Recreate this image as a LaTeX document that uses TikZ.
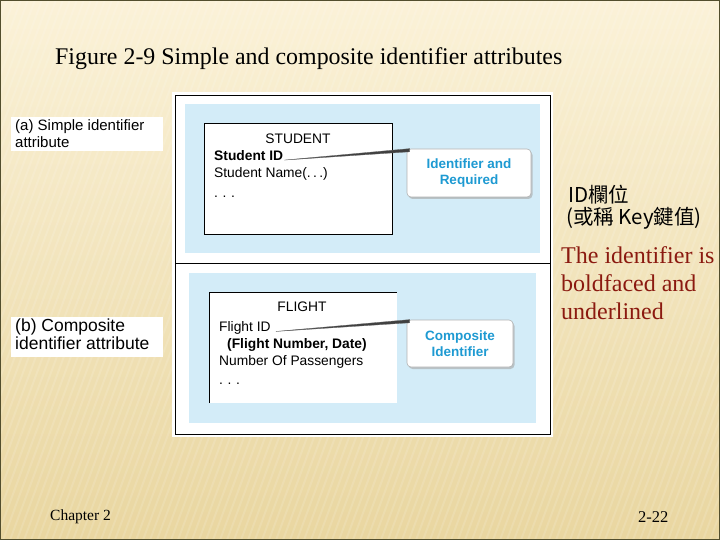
\documentclass[tikz,border=0pt]{standalone}
\usepackage{fontspec}
\setmainfont{Liberation Serif}
\newfontfamily\arialf{Liberation Sans}
\newfontfamily\cjk{Noto Sans CJK TC}
\usetikzlibrary{calc,shadows}
\definecolor{creamtop}{HTML}{FBF2D8}
\definecolor{creambot}{HTML}{E9D6A0}
\definecolor{panelblue}{HTML}{D3ECF8}
\definecolor{calloutblue}{HTML}{1E9AD2}
\definecolor{darkred}{HTML}{8B1A10}
\tikzset{
  panel/.style={fill=panelblue, draw=none},
  entbox/.style={fill=white, draw=black, line width=0.8pt},
  attr/.style={font=\arialf\fontsize{13.8}{15}\selectfont, anchor=base west, inner sep=0pt},
  callout/.style={fill=white, draw=gray!60, rounded corners=4pt, line width=0.6pt,
     drop shadow={shadow xshift=1.5pt, shadow yshift=-2pt, fill=gray!70, opacity=0.6},
     font=\arialf\bfseries\fontsize{13.5}{16}\selectfont, text=calloutblue, align=center,
     inner sep=0pt},
  lbl/.style={fill=white, draw=none, anchor=north west, align=left, inner sep=0pt,
     text depth=0pt},
  pointer/.style={fill=black!75, draw=black!60, line width=0.3pt},
  stripe/.style={white, opacity=0.13, line width=2pt},
}
\begin{document}
\begin{tikzpicture}[x=1pt,y=-1pt]
\useasboundingbox (0,0) rectangle (720,540);
% slide background
\shade[top color=creamtop, bottom color=creambot] (0,0) rectangle (720,540);
\begin{scope}
\clip (0,0) rectangle (720,540);
\foreach \i in {-200,-193,...,720} {
  \draw[stripe] (\i,540) -- (\i+200,0);
}
\end{scope}
\draw[color=black!55!olive, line width=1pt] (0.5,0.5) rectangle (719.5,539.5);
% title
\node[anchor=base west, inner sep=0pt, font=\fontsize{23.9}{26}\selectfont] (title) at (55,65)
  {Figure 2-9 Simple and composite identifier attributes};
% figure frame
\fill[white] (172,92) rectangle (553,437);
\draw[black, line width=0.8pt] (175,95) rectangle (550,434);
\draw[black, line width=0.8pt] (175,263) -- (550,263);
% upper panel
\fill[panelblue] (185,104) rectangle (540,253);
\draw[entbox] (204,123) rectangle (392,234);
\node[attr, anchor=base] (stu) at (298,144) {STUDENT};
\node[attr, font=\arialf\bfseries\fontsize{13.8}{15}\selectfont] (sid) at (214,161) {Student ID};
\node[attr] (sname) at (214,178) {Student Name(.\,.\,.)};
\node[attr] (sdots) at (214,197) {.\,\,.\,\,.};
\node[callout, minimum width=124pt, minimum height=48pt] (c1) at (469,173)
  {Identifier and\\Required};
\coordinate (c1p) at ($(c1.north west)+(3pt,-1.5pt)$);
\fill[pointer] (sid.east) ++(1pt,-4pt) coordinate (s1) -- ($(c1p)+(0,-1.6pt)$) -- ($(c1p)+(0,1.6pt)$) -- cycle;
% lower panel
\fill[panelblue] (189,273) rectangle (536,423);
\fill[white] (209,292) rectangle (397,403);
\draw[black, line width=0.8pt] (209,403) -- (209,292) -- (397,292);
\node[attr, anchor=base] (fl) at (302,311) {FLIGHT};
\node[attr] (fid) at (219,331) {Flight ID};
\node[attr, font=\arialf\bfseries\fontsize{13.8}{15}\selectfont] (fnd) at (227,348) {(Flight Number, Date)};
\node[attr] (nop) at (219,365) {Number Of Passengers};
\node[attr] (fdots) at (219,384) {.\,\,.\,\,.};
\node[callout, minimum width=106pt, minimum height=47pt] (c2) at (460,343.5)
  {Composite\\Identifier};
\coordinate (c2p) at ($(c2.north west)+(3pt,-1.5pt)$);
\fill[pointer] (fid.east) ++(5pt,-4pt) -- ($(c2p)+(0,-1.6pt)$) -- ($(c2p)+(0,1.6pt)$) -- cycle;
% left labels
\fill[white] (11,117) rectangle (163,151);
\node[lbl, font=\arialf\fontsize{15}{17}\selectfont] (la) at (15,119)
  {(a) Simple identifier\\attribute};
\fill[white] (11,317) rectangle (163,357);
\node[lbl, font=\arialf\fontsize{17.5}{18}\selectfont] (lb) at (15,318.5)
  {(b) Composite\\identifier attribute};
% right notes
\node[anchor=base west, inner sep=0pt, font=\cjk\fontsize{20.5}{22}\selectfont] (n1) at (568,203) {ID欄位};
\node[anchor=base west, inner sep=0pt, font=\cjk\fontsize{20.5}{22}\selectfont] (n2) at (566,225) {(或稱 Key鍵值)};
\node[anchor=north west, inner sep=0pt, align=left, text=darkred,
      font=\fontsize{24}{28}\selectfont] (n3) at (561,246)
  {The identifier is\\boldfaced and\\underlined};
% footer
\node[anchor=base west, inner sep=0pt, font=\fontsize{15.5}{17}\selectfont] (ch) at (50,520) {Chapter 2};
\node[anchor=base west, inner sep=0pt, font=\fontsize{16.5}{18}\selectfont] (pg) at (638,522) {2-22};
\end{tikzpicture}
\end{document}
